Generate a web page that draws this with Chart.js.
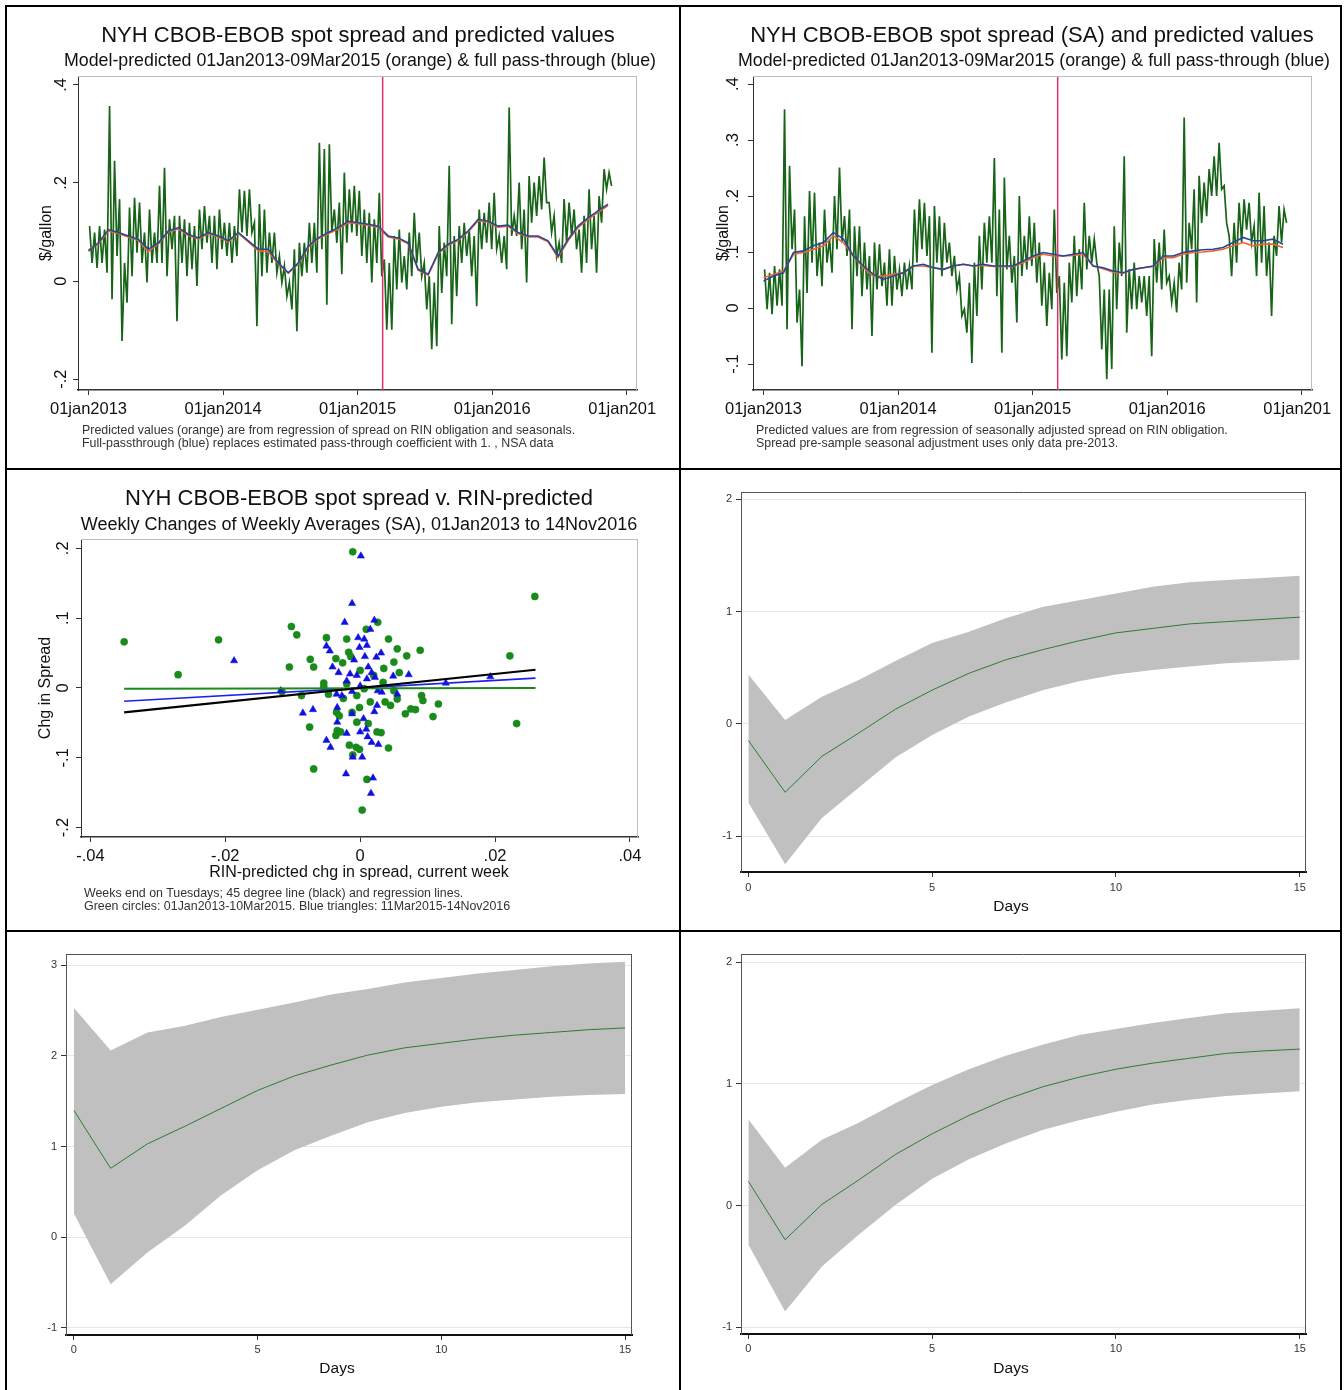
<!DOCTYPE html>
<html>
<head>
<meta charset="utf-8">
<script src="https://cdn.jsdelivr.net/npm/chart.js@4.4.1/dist/chart.umd.min.js"></script>
<style>
body { margin: 0; background: #fff; width: 1344px; height: 1390px; position: relative; overflow: hidden;
       font-family: "Liberation Sans", Arial, sans-serif; color: #111; }
.ln { position: absolute; background: #000; }
.panel { position: absolute; overflow: hidden; }
.panel canvas { position: absolute; left: 0; top: 0; }
.t { position: absolute; white-space: nowrap; line-height: 1; }
.c { transform: translateX(-50%); }
.fn { font-size: 12.4px; color: #333; }
</style>
</head>
<body>
<!-- table borders -->
<div class="ln" style="left:5px;top:5px;width:1337px;height:2px"></div>
<div class="ln" style="left:5px;top:468px;width:1337px;height:2px"></div>
<div class="ln" style="left:5px;top:930px;width:1337px;height:2px"></div>
<div class="ln" style="left:5px;top:5px;width:2px;height:1390px"></div>
<div class="ln" style="left:679px;top:5px;width:2px;height:1390px"></div>
<div class="ln" style="left:1340px;top:5px;width:2px;height:1390px"></div>

<div class="panel" style="left:8px;top:7px;width:649px;height:461px">
  <canvas id="c1"></canvas>
  <div class="t c" style="left:350px;top:17px;font-size:22px">NYH CBOB-EBOB spot spread and predicted values</div>
  <div class="t c" style="left:352px;top:45px;font-size:17.8px">Model-predicted 01Jan2013-09Mar2015 (orange) &amp; full pass-through (blue)</div>
  <div class="t fn" style="left:74px;top:417px">Predicted values (orange) are from regression of spread on RIN obligation and seasonals.</div>
  <div class="t fn" style="left:74px;top:430px">Full-passthrough (blue) replaces estimated pass-through coefficient with 1. , NSA data</div>
</div>

<div class="panel" style="left:682px;top:7px;width:649px;height:461px">
  <canvas id="c2"></canvas>
  <div class="t c" style="left:350px;top:17px;font-size:22px">NYH CBOB-EBOB spot spread (SA) and predicted values</div>
  <div class="t c" style="left:352px;top:45px;font-size:17.8px">Model-predicted 01Jan2013-09Mar2015 (orange) &amp; full pass-through (blue)</div>
  <div class="t fn" style="left:74px;top:417px">Predicted values are from regression of seasonally adjusted spread on RIN obligation.</div>
  <div class="t fn" style="left:74px;top:430px">Spread pre-sample seasonal adjustment uses only data pre-2013.</div>
</div>

<div class="panel" style="left:8px;top:471px;width:670px;height:459px">
  <canvas id="c3"></canvas>
  <div class="t c" style="left:351px;top:16px;font-size:22px">NYH CBOB-EBOB spot spread v. RIN-predicted</div>
  <div class="t c" style="left:351px;top:44px;font-size:18px">Weekly Changes of Weekly Averages (SA), 01Jan2013 to 14Nov2016</div>
  <div class="t c" style="left:351px;top:393px;font-size:16px">RIN-predicted chg in spread, current week</div>
  <div class="t fn" style="left:76px;top:416px">Weeks end on Tuesdays; 45 degree line (black) and regression lines.</div>
  <div class="t fn" style="left:76px;top:429px">Green circles: 01Jan2013-10Mar2015. Blue triangles: 11Mar2015-14Nov2016</div>
</div>

<div class="panel" style="left:682px;top:471px;width:657px;height:459px">
  <canvas id="c4"></canvas>
  <div class="t c" style="left:329px;top:427px;font-size:15.5px">Days</div>
</div>

<div class="panel" style="left:8px;top:933px;width:670px;height:457px">
  <canvas id="c5"></canvas>
  <div class="t c" style="left:329px;top:427px;font-size:15.5px">Days</div>
</div>

<div class="panel" style="left:682px;top:933px;width:657px;height:457px">
  <canvas id="c6"></canvas>
  <div class="t c" style="left:329px;top:427px;font-size:15.5px">Days</div>
</div>

<script>
// ---- data ----
const yearTicks = [2013, 2014, 2015, 2016, 2017];
const seriesStart = 2013.008, seriesStep = 0.01856;   // spread, about weekly hi/lo
const smoothStart = 2013.0, smoothStep = 0.07424;     // predicted lines
const breakDate = 2015.186;                           // 09Mar2015

// NSA spread, $/gallon
const spreadNSA = [
  0.112,0.037,0.099,0.027,0.112,0.037,0.105,0.017,0.357,-0.037,0.245,0.051,0.167,-0.122,0.037,-0.044,0.150,0.010,0.170,0.058,
  0.160,0.037,0.099,-0.003,0.146,0.037,0.099,0.037,0.194,0.037,0.231,0.010,0.126,0.065,0.133,-0.082,0.133,0.037,0.126,0.010,
  0.119,0.024,0.112,-0.010,0.146,0.065,0.153,0.078,0.133,0.037,0.133,0.024,0.146,0.065,0.119,0.051,0.119,0.037,0.112,0.051,
  0.187,0.099,0.184,0.092,0.187,0.099,0.119,-0.092,0.157,0.010,0.146,0.017,0.099,0.037,0.099,0.017,0.051,-0.003,0.031,-0.031,
  -0.003,-0.058,0.065,-0.102,0.078,0.010,0.078,0.017,0.119,0.037,0.119,0.017,0.282,0.065,0.269,-0.048,0.279,0.099,0.146,0.078,
  0.160,0.014,0.221,0.078,0.187,0.099,0.194,0.092,
  0.184,0.051,0.146,0.037,0.139,-0.003,0.126,0.037,0.180,0.010,0.044,-0.099,0.037,-0.099,0.092,-0.017,0.105,-0.003,0.051,-0.017,
  0.099,0.010,0.139,0.037,0.099,0.010,0.037,-0.058,0.010,-0.139,-0.003,-0.133,0.112,-0.024,0.078,0.010,0.235,-0.088,0.092,-0.031,
  0.112,0.037,0.119,0.051,0.105,0.010,0.092,-0.051,0.146,0.065,0.139,0.078,0.160,0.065,0.180,0.065,0.092,0.037,0.092,0.024,
  0.354,0.092,0.133,0.092,0.201,0.065,0.146,-0.003,0.214,0.119,0.201,0.133,0.214,0.146,0.252,0.160,0.160,0.099,0.133,0.051,
  0.078,0.037,0.167,0.078,0.160,0.092,0.146,0.065,0.105,0.017,0.133,0.037,0.187,0.065,0.133,0.017,0.173,0.119,0.228,0.187,
  0.221,0.194
];
const blueNSA = [
  0.061,0.078,0.105,0.099,0.092,0.085,0.065,0.078,0.102,0.109,0.095,0.088,0.099,0.092,0.082,0.099,0.082,0.065,0.065,0.037,
  0.017,0.037,0.071,0.088,0.099,0.109,0.122,0.119,0.116,0.112,0.092,0.088,0.078,0.024,0.014,0.058,0.075,0.085,0.102,0.126,
  0.122,0.112,0.114,0.099,0.092,0.092,0.082,0.051,0.085,0.112,0.129,0.143,0.157
];
const orangeNSA = [
  0.064,0.076,0.102,0.097,0.090,0.083,0.060,0.076,0.100,0.106,0.093,0.086,0.097,0.090,0.080,0.097,0.080,0.062,0.060,0.035,
  0.016,0.035,0.069,0.086,0.097,0.106,0.119,0.117,0.114,0.110,0.090,0.086,0.076,0.022,0.012,0.056,0.073,0.083,0.100,0.123,
  0.120,0.110,0.112,0.097,0.090,0.090,0.080,0.048,0.082,0.109,0.126,0.140,0.154
];

// seasonally adjusted spread
const spreadSA = [
  0.069,-0.002,0.063,-0.011,0.075,0.004,0.069,0.004,0.355,-0.038,0.254,0.105,0.176,-0.026,0.033,-0.104,0.164,0.027,0.209,0.081,
  0.206,0.057,0.117,0.039,0.176,0.081,0.123,0.063,0.200,0.105,0.251,0.117,0.164,0.093,0.176,-0.038,0.146,0.057,0.146,0.021,
  0.117,0.033,0.093,-0.050,0.117,0.033,0.114,0.039,0.081,0.004,0.105,0.004,0.093,0.033,0.069,0.021,0.081,0.033,0.075,0.033,
  0.176,0.081,0.194,0.105,0.188,0.093,0.164,-0.080,0.182,0.081,0.164,0.057,0.152,0.081,0.117,0.057,0.093,0.033,0.057,-0.014,
  -0.002,-0.044,0.045,-0.098,0.081,-0.014,0.129,0.033,0.152,0.081,0.164,0.081,0.268,0.021,0.176,-0.080,0.233,0.069,0.129,0.045,
  0.093,-0.026,0.200,0.057,0.129,0.069,0.164,0.075,
  0.152,0.045,0.117,0.004,0.081,-0.032,0.063,-0.002,0.176,0.027,0.057,-0.092,0.045,-0.086,0.081,0.010,0.129,0.021,0.105,0.033,
  0.188,0.069,0.129,0.081,0.123,0.081,0.057,-0.074,0.033,-0.127,0.033,-0.109,0.146,-0.002,0.117,0.057,0.271,-0.044,0.069,-0.002,
  0.081,-0.002,0.057,0.010,0.057,-0.014,0.057,-0.086,0.123,0.045,0.117,0.033,0.140,0.045,0.057,0.010,0.045,-0.008,0.081,0.033,
  0.340,0.045,0.152,0.105,0.212,0.010,0.236,0.152,0.224,0.164,0.248,0.200,0.271,0.200,0.295,0.212,0.218,0.152,0.129,0.057,
  0.152,0.081,0.188,0.117,0.194,0.140,0.188,0.117,0.146,0.057,0.206,0.081,0.182,0.057,0.117,-0.014,0.129,0.093,0.182,0.117,
  0.176,0.152
];
const blueSA = [
  0.048,0.057,0.063,0.099,0.102,0.111,0.117,0.135,0.123,0.093,0.075,0.060,0.051,0.057,0.063,0.075,0.078,0.072,0.069,0.075,
  0.078,0.075,0.078,0.075,0.075,0.075,0.084,0.093,0.099,0.096,0.093,0.096,0.099,0.075,0.072,0.066,0.063,0.069,0.072,0.075,
  0.093,0.093,0.099,0.102,0.104,0.105,0.108,0.117,0.126,0.120,0.120,0.123,0.114
];
const orangeSA = [
  0.054,0.060,0.066,0.096,0.099,0.105,0.111,0.129,0.117,0.093,0.072,0.057,0.057,0.060,0.063,0.075,0.075,0.072,0.069,0.075,
  0.078,0.075,0.076,0.074,0.074,0.074,0.081,0.090,0.096,0.093,0.093,0.094,0.096,0.075,0.070,0.064,0.062,0.069,0.072,0.074,
  0.090,0.090,0.096,0.099,0.100,0.102,0.105,0.111,0.117,0.111,0.114,0.114,0.108
];

// weekly changes: green circles (to 10Mar2015), blue triangles (after)
const greenX = [-0.0011,-0.0102,-0.0094,-0.0050,-0.0020,0.0009,0.0026,0.0042,0.0055,0.0069,
  0.0089,0.0050,0.0058,-0.0017,-0.0014,-0.0036,-0.0074,-0.0105,-0.0069,-0.0026,
  0.0035,-0.0054,-0.0054,0.0020,0.0034,-0.0087,-0.0047,-0.0025,-0.0005,0.0050,
  0.0055,0.0037,0.0045,0.0091,0.0093,0.0116,0.0075,0.0082,0.0067,0.0108,
  -0.0075,-0.0035,-0.0031,-0.0034,-0.0029,-0.0036,-0.0012,-0.0001,-0.0005,0.0012,
  0.0025,0.0031,-0.0016,-0.0006,-0.0001,0.0042,-0.0011,-0.0069,0.0010,0.0003,
  0.0015,-0.0020,0.0000,0.0006,-0.0350,-0.0270,-0.0210,0.0259,0.0222,0.0232,-0.0116];
const greenY = [0.195,0.088,0.076,0.072,0.070,0.084,0.094,0.070,0.056,0.046,
  0.054,0.037,0.022,0.051,0.045,0.042,0.041,0.030,0.030,0.036,
  0.028,0.007,0.002,0.018,0.008,-0.011,-0.009,-0.015,-0.011,-0.004,
  -0.016,-0.020,-0.025,-0.011,-0.018,-0.023,-0.030,-0.031,-0.037,-0.041,
  -0.056,-0.035,-0.040,-0.061,-0.063,-0.068,-0.035,-0.028,-0.049,-0.051,
  -0.063,-0.064,-0.082,-0.085,-0.088,-0.086,-0.096,-0.116,-0.131,-0.175,
  -0.020,0.006,0.025,-0.001,0.066,0.019,0.069,0.131,0.046,-0.051,-0.005];
const blueX = [0.0001,-0.0012,-0.0023,0.0021,0.0015,-0.0003,0.0006,0.0010,-0.0050,-0.0045,
  -0.0001,0.0031,0.0024,-0.0009,0.0007,-0.0041,-0.0032,-0.0015,-0.0005,0.0012,
  0.0017,0.0010,0.0022,0.0049,0.0072,-0.0020,0.0000,-0.0035,-0.0027,-0.0012,
  0.0026,0.0032,0.0055,-0.0085,-0.0070,-0.0034,-0.0012,0.0025,0.0021,-0.0034,
  0.0005,-0.0020,0.0000,0.0009,0.0011,0.0017,-0.0050,-0.0044,0.0027,-0.0011,
  0.0003,-0.0021,0.0019,0.0016,-0.0118,-0.0187,0.0193,0.0127];
const blueY = [0.189,0.121,0.094,0.097,0.084,0.072,0.070,0.061,0.060,0.053,
  0.058,0.050,0.044,0.040,0.045,0.030,0.022,0.020,0.018,0.030,
  0.022,0.013,0.015,0.017,0.019,0.010,0.003,-0.009,-0.011,-0.005,
  -0.004,-0.006,-0.009,-0.036,-0.031,-0.028,-0.037,-0.025,-0.034,-0.049,
  -0.044,-0.065,-0.063,-0.059,-0.070,-0.078,-0.075,-0.085,-0.081,-0.099,
  -0.099,-0.123,-0.129,-0.151,-0.004,0.039,0.016,0.007];
const fitX = [-0.035, 0.026];
const fit45 = [-0.035, 0.026];
const fitGreen = [-0.001, 0.000];
const fitBlue = [-0.019, 0.014];

// impulse responses with bands
const days = [0,1,2,3,4,5,6,7,8,9,10,11,12,13,14,15];
const dayTicks = [0, 5, 10, 15];
const irfA   = [-0.148,-0.61,-0.29,-0.083,0.13,0.30,0.45,0.57,0.66,0.74,0.81,0.85,0.89,0.91,0.93,0.95];
const irfAHi = [0.44,0.035,0.24,0.39,0.56,0.72,0.82,0.94,1.04,1.10,1.16,1.22,1.26,1.28,1.30,1.32];
const irfALo = [-0.70,-1.25,-0.84,-0.57,-0.30,-0.10,0.065,0.19,0.30,0.38,0.44,0.48,0.51,0.54,0.555,0.57];
const irfB   = [1.40,0.76,1.03,1.22,1.42,1.62,1.78,1.90,2.01,2.09,2.14,2.19,2.23,2.26,2.29,2.31];
const irfBHi = [2.53,2.06,2.26,2.33,2.43,2.51,2.59,2.68,2.74,2.81,2.86,2.91,2.95,2.99,3.02,3.04];
const irfBLo = [0.26,-0.52,-0.17,0.12,0.46,0.74,0.96,1.12,1.27,1.37,1.44,1.49,1.52,1.55,1.57,1.58];
const irfC   = [0.20,-0.28,0.01,0.21,0.42,0.59,0.74,0.87,0.975,1.055,1.12,1.17,1.21,1.25,1.27,1.285];
const irfCHi = [0.71,0.31,0.54,0.68,0.84,0.99,1.12,1.23,1.32,1.40,1.45,1.50,1.54,1.58,1.60,1.62];
const irfCLo = [-0.32,-0.87,-0.50,-0.24,0.005,0.22,0.38,0.51,0.62,0.70,0.77,0.83,0.87,0.90,0.92,0.94];

// ---- helpers ----
const FONT = '"Liberation Sans", Arial, sans-serif';
Chart.defaults.font.family = FONT;
Chart.defaults.color = '#111';

function seq(vals, start, step) { return vals.map((v, i) => ({ x: start + i * step, y: v })); }
function pairs(xs, ys) { return xs.map((x, i) => ({ x: x, y: ys[i] })); }
function stataNum(v) {
  return String(Math.round(v * 1000) / 1000).replace(/^(-?)0\./, '$1.');
}
function fixTicks(list) { return s => { s.ticks = list.map(v => ({ value: v })); }; }

// frame + rotated stata-style y labels
const stataPlugin = {
  id: 'stata',
  afterDraw(chart, args, o) {
    const ctx = chart.ctx, a = chart.chartArea;
    ctx.save();
    if (o.frame) {
      ctx.strokeStyle = o.frame;
      ctx.lineWidth = 1;
      ctx.beginPath();
      ctx.moveTo(a.left, a.top + 0.5); ctx.lineTo(a.right, a.top + 0.5);
      ctx.moveTo(a.right - 0.5, a.top); ctx.lineTo(a.right - 0.5, a.bottom);
      ctx.stroke();
    }
    ctx.fillStyle = '#111';
    ctx.textAlign = 'center';
    ctx.textBaseline = 'middle';
    if (o.rotY) {
      const s = chart.scales.y;
      ctx.font = '16.5px ' + FONT;
      s.ticks.forEach(t => {
        ctx.save();
        ctx.translate(a.left - o.rotY, s.getPixelForValue(t.value));
        ctx.rotate(-Math.PI / 2);
        ctx.fillText(stataNum(t.value), 0, 0);
        ctx.restore();
      });
    }
    if (o.yTitle) {
      ctx.font = '16px ' + FONT;
      ctx.translate(a.left - o.yTitleOff, (a.top + a.bottom) / 2);
      ctx.rotate(-Math.PI / 2);
      ctx.fillText(o.yTitle, 0, 0);
    }
    ctx.restore();
  }
};

function makeChart(id, W, H, area, xh, type, datasets, scales, deco) {
  const cv = document.getElementById(id);
  cv.width = W; cv.height = H;
  scales.x.afterFit = s => { s.height = xh; s.paddingLeft = 0; s.paddingRight = 0; };
  scales.y.afterFit = s => { s.width = area[0]; s.paddingTop = 0; s.paddingBottom = 0; };
  return new Chart(cv, {
    type: type,
    data: { datasets: datasets },
    options: {
      responsive: false, animation: false, events: [],
      layout: { padding: { left: 0, top: area[1], right: W - area[2], bottom: H - area[3] - xh } },
      plugins: { legend: { display: false }, tooltip: { enabled: false }, stata: deco },
      scales: scales
    },
    plugins: [stataPlugin]
  });
}

function timeScales(ymin, ymax, yt) {
  return {
    x: { type: 'linear', min: 2012.922, max: 2017.076, afterBuildTicks: fixTicks(yearTicks),
         ticks: { callback: v => '01jan' + v, font: { size: 16.5 }, color: '#111', padding: 5, maxRotation: 0, autoSkip: false },
         grid: { drawOnChartArea: false, tickLength: 5, tickColor: '#333' },
         border: { color: '#333', width: 1.5 } },
    y: { type: 'linear', min: ymin, max: ymax, afterBuildTicks: fixTicks(yt),
         ticks: { display: false },
         grid: { drawOnChartArea: false, tickLength: 5, tickColor: '#333' },
         border: { color: '#333', width: 1 } }
  };
}

function irfScales(xmin, xmax, ymin, ymax, yt, pad) {
  return {
    x: { type: 'linear', min: xmin, max: xmax, afterBuildTicks: fixTicks(dayTicks),
         ticks: { font: { size: 11 }, color: '#333', padding: pad, maxRotation: 0, autoSkip: false },
         grid: { drawOnChartArea: false, tickLength: 5, tickColor: '#333' },
         border: { color: '#111', width: 2 } },
    y: { type: 'linear', min: ymin, max: ymax, afterBuildTicks: fixTicks(yt),
         ticks: { font: { size: 11 }, color: '#333', padding: 4 },
         grid: { color: '#e6e6e6', tickLength: 5, tickColor: '#333' },
         border: { color: '#555', width: 1 } }
  };
}

function timeSets(spread, blue, orange, ymin, ymax) {
  return [
    { data: [{ x: breakDate, y: ymin }, { x: breakDate, y: ymax }], borderColor: '#d8336a', borderWidth: 1.5, pointRadius: 0 },
    { data: seq(blue, smoothStart, smoothStep), borderColor: '#24479a', borderWidth: 1.6, pointRadius: 0 },
    { data: seq(orange, smoothStart, smoothStep), borderColor: '#f0642c', borderWidth: 1.6, pointRadius: 0 },
    { data: seq(spread, seriesStart, seriesStep), borderColor: '#176317', borderWidth: 1.7, pointRadius: 0 }
  ];
}

function irfSets(mid, hi, lo) {
  return [
    { data: pairs(days, mid), borderColor: '#2e7d32', borderWidth: 1, pointRadius: 0 },
    { data: pairs(days, hi), borderColor: 'rgba(0,0,0,0)', borderWidth: 0, pointRadius: 0, backgroundColor: '#c0c0c0', fill: '+1' },
    { data: pairs(days, lo), borderColor: 'rgba(0,0,0,0)', borderWidth: 0, pointRadius: 0, fill: false }
  ];
}

// ---- charts ----
makeChart('c1', 649, 461, [70, 69, 629, 383], 40, 'line',
  timeSets(spreadNSA, blueNSA, orangeNSA, -0.222, 0.418),
  timeScales(-0.222, 0.418, [-0.2, 0, 0.2, 0.4]),
  { frame: '#bdbdbd', rotY: 17, yTitle: '$/gallon', yTitleOff: 31 });

makeChart('c2', 649, 461, [71, 69, 630, 383], 40, 'line',
  timeSets(spreadSA, blueSA, orangeSA, -0.1464, 0.4143),
  timeScales(-0.1464, 0.4143, [-0.1, 0, 0.1, 0.2, 0.3, 0.4]),
  { frame: '#bdbdbd', rotY: 20, yTitle: '$/gallon', yTitleOff: 29 });

makeChart('c3', 670, 459, [73, 68, 630, 366], 40, 'scatter', [
    { type: 'line', data: pairs(fitX, fit45), borderColor: '#000', borderWidth: 2.2, pointRadius: 0 },
    { type: 'line', data: pairs(fitX, fitGreen), borderColor: '#1a8a1a', borderWidth: 2, pointRadius: 0 },
    { type: 'line', data: pairs(fitX, fitBlue), borderColor: '#1f1fe8', borderWidth: 1.6, pointRadius: 0 },
    { data: pairs(blueX, blueY), pointStyle: 'triangle', pointRadius: 4.2, backgroundColor: '#1010e0', borderColor: '#1010e0', borderWidth: 0.5 },
    { data: pairs(greenX, greenY), pointStyle: 'circle', pointRadius: 3.6, backgroundColor: '#1a8a1a', borderColor: '#1a8a1a', borderWidth: 0.5 }
  ], {
    x: { type: 'linear', min: -0.0414, max: 0.0412, afterBuildTicks: fixTicks([-0.04, -0.02, 0, 0.02, 0.04]),
         ticks: { callback: v => stataNum(v), font: { size: 16.5 }, color: '#111', padding: 5, maxRotation: 0, autoSkip: false },
         grid: { drawOnChartArea: false, tickLength: 5, tickColor: '#333' },
         border: { color: '#333', width: 1.5 } },
    y: { type: 'linear', min: -0.2135, max: 0.2133, afterBuildTicks: fixTicks([-0.2, -0.1, 0, 0.1, 0.2]),
         ticks: { display: false },
         grid: { drawOnChartArea: false, tickLength: 5, tickColor: '#333' },
         border: { color: '#333', width: 1 } }
  },
  { frame: '#bdbdbd', rotY: 18, yTitle: 'Chg in Spread', yTitleOff: 35 });

makeChart('c4', 657, 459, [59, 21, 624, 401], 30, 'line',
  irfSets(irfA, irfAHi, irfALo),
  irfScales(-0.2, 15.17, -1.32, 2.065, [-1, 0, 1, 2], 4),
  { frame: '#555' });

makeChart('c5', 670, 457, [58, 21, 624, 402], 30, 'line',
  irfSets(irfB, irfBHi, irfBLo),
  irfScales(-0.215, 15.19, -1.08, 3.126, [-1, 0, 1, 2, 3], 3),
  { frame: '#555' });

makeChart('c6', 657, 457, [59, 21, 624, 401], 30, 'line',
  irfSets(irfC, irfCHi, irfCLo),
  irfScales(-0.2, 15.17, -1.054, 2.066, [-1, 0, 1, 2], 3),
  { frame: '#555' });
</script>
</body>
</html>
